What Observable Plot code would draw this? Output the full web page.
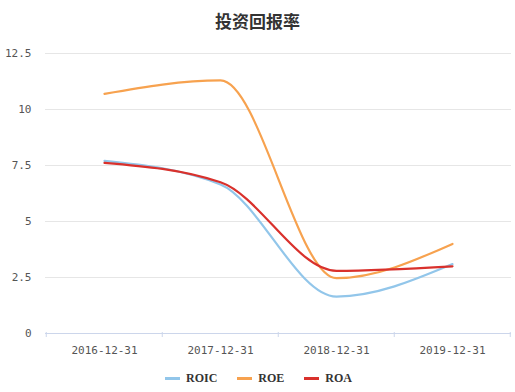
<!DOCTYPE html>
<html><head><meta charset="utf-8">
<script src="https://cdn.jsdelivr.net/npm/d3@7"></script>
<script src="https://cdn.jsdelivr.net/npm/@observablehq/plot@0.6"></script>
<style>
body{margin:0;background:#fff;width:515px;height:392px;overflow:hidden;font-family:"Noto Sans CJK SC",sans-serif;}
#title{height:38px;line-height:42px;text-align:center;font-size:17px;font-weight:bold;color:#333;}
#legend{display:flex;justify-content:center;gap:20px;margin-top:8px;font-family:"Liberation Serif",serif;font-weight:bold;font-size:12px;color:#333;padding-left:2px;}
#legend span{display:flex;align-items:center;}
#legend i{display:inline-block;width:15px;height:2.5px;margin-right:6px;}
</style></head>
<body>
<div id="title">投资回报率</div>
<div id="chart"></div>
<div id="legend"></div>
<script>
const categories = ["2016-12-31","2017-12-31","2018-12-31","2019-12-31"];
const seriesNames = ["ROIC","ROE","ROA"];
const roic = [7.71, 6.65, 1.65, 3.1];
const roe = [10.7, 11.3, 2.47, 4.0];
const roa = [7.62, 6.75, 2.8, 3.0];
const yTicks = [0, 2.5, 5, 7.5, 10, 12.5];
const colors = ["#92c6ea", "#f7a24f", "#d9312c"];

const allSeries = [roic, roe, roa];
const data = [];
seriesNames.forEach((s, i) => categories.forEach((c, j) => data.push({series: s, date: c, value: allSeries[i][j]})));

const W = 515, H = 325, mL = 45, mR = 4, mT = 15, mB = 30;
const step = (W - mL - mR) / categories.length;
const frameH = H - mT - mB;

const plot = Plot.plot({
  width: W, height: H,
  marginLeft: mL, marginRight: mR, marginTop: mT, marginBottom: mB,
  style: {fontFamily: "'DejaVu Sans Mono', monospace", fontSize: "11px", color: "#555"},
  x: {type: "point", domain: categories, padding: 0.5, label: null},
  y: {domain: [0, 12.5], label: null},
  color: {domain: seriesNames, range: colors},
  marks: [
    Plot.ruleY(yTicks.filter(d => d > 0), {stroke: "#e6e6e6", strokeWidth: 1}),
    Plot.axisY({ticks: yTicks, tickSize: 0, tickPadding: 14, tickFormat: d => String(d), fontSize: 11}),
    Plot.axisX({tickSize: 0, tickPadding: 13, fontSize: 11}),
    Plot.ruleY([0], {stroke: "#ccd6eb"}),
    Plot.tickX(categories, {x: d => d, dx: -step / 2, stroke: "#ccd6eb", insetTop: frameH - 1, insetBottom: -4}),
    Plot.tickX(categories.slice(-1), {x: d => d, dx: step / 2 - 0.5, stroke: "#ccd6eb", insetTop: frameH - 1, insetBottom: -4}),
    Plot.line(data, {x: "date", y: "value", z: "series", stroke: "series", strokeWidth: 2.2, curve: "monotone-x"})
  ]
});
document.getElementById("chart").appendChild(plot);

const legend = document.getElementById("legend");
seriesNames.forEach((s, i) => {
  const sp = document.createElement("span");
  sp.innerHTML = `<i style="background:${colors[i]}"></i>${s}`;
  legend.appendChild(sp);
});
</script>
</body></html>
